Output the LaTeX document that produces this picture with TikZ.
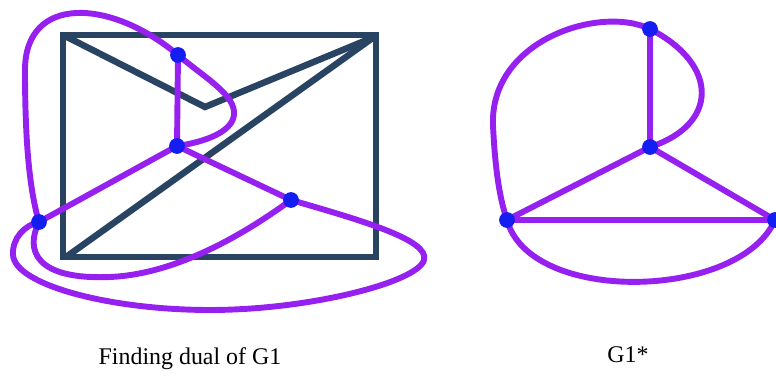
\documentclass[tikz,border=0pt]{standalone}
\usepackage{fontspec}
\setmainfont{Liberation Serif}
\definecolor{gline}{RGB}{40,68,98}
\definecolor{dline}{RGB}{150,32,240}
\definecolor{vdot}{RGB}{20,30,240}
\tikzset{
  gedge/.style={draw=gline,line width=4.6pt},
  dedge/.style={draw=dline,line width=4.2pt},
  dvert/.style={fill=vdot},
  caption/.style={anchor=base,font=\fontsize{17}{20}\selectfont}
}
\begin{document}
\begin{tikzpicture}[x=0.025cm,y=-0.025cm]
\useasboundingbox (0,0) rectangle (776,379);
% G1
\coordinate (tl) at (63,35);
\coordinate (br) at (376,257);
\coordinate (tr) at (374,37);
\coordinate (bl) at (66,257);
\coordinate (kink) at (205,107);
\draw[gedge] (tl) rectangle (br);
\draw[gedge] (tl)--(kink)--(tr);
\draw[gedge] (bl)--(tr);
% dual drawn on G1
\coordinate (A) at (178,55);
\coordinate (B) at (177,146);
\coordinate (C) at (291,200);
\coordinate (D) at (39,222);
\draw[dedge] (A)--(B);
\draw[dedge] (B)--(D);
\draw[dedge] (B)--(C);
\draw[dedge] (A) .. controls (205,78) and (236,95) .. (234,115)
  .. controls (232,132) and (205,142) .. (B);
\draw[dedge] (A) .. controls (110,-2) and (25,-5) .. (25,70)
  .. controls (25,130) and (28,185) .. (D);
\draw[dedge] (D) .. controls (25,250) and (35,280) .. (110,277)
  .. controls (180,274) and (250,230) .. (C);
\draw[dedge] (C) .. controls (360,220) and (430,240) .. (424,260)
  .. controls (418,282) and (310,310) .. (210,310)
  .. controls (110,310) and (15,285) .. (13,255)
  .. controls (12,238) and (25,225) .. (D);
\foreach \v in {A,B,C,D}
  \fill[dvert] (\v) circle[radius=5.6pt];
% G1*
\coordinate (P) at (650,29);
\coordinate (Q) at (650,147);
\coordinate (R) at (507,220);
\coordinate (S) at (775,220);
\draw[dedge] (P)--(Q);
\draw[dedge] (Q)--(R);
\draw[dedge] (Q)--(S);
\draw[dedge] (R)--(S);
\draw[dedge] (P) .. controls (720,65) and (718,125) .. (Q);
\draw[dedge] (P) .. controls (600,5) and (490,40) .. (493,125)
  .. controls (495,170) and (500,200) .. (R);
\draw[dedge] (R) .. controls (530,305) and (740,300) .. (S);
\foreach \v in {P,Q,R,S}
  \fill[dvert] (\v) circle[radius=5.6pt];
\node[caption] (cap1) at (190,365) {Finding dual of G1};
\node[caption] (cap2) at (628,363) {G1*};
\end{tikzpicture}
\end{document}
